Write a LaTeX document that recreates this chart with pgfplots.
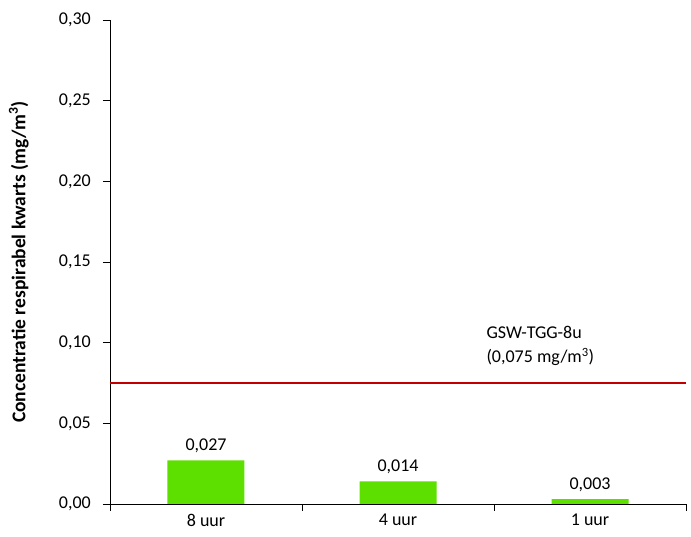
\documentclass[border=0pt]{standalone}
\usepackage{fontspec}
\setmainfont{Carlito}
\usepackage{pgfplots}
\pgfplotsset{compat=1.18}
\definecolor{barg}{HTML}{5DDF00}
\definecolor{limred}{HTML}{C00000}
\begin{document}
\fontsize{18}{21}\selectfont
\begin{tikzpicture}
\begin{axis}[
  scale only axis,
  width=576pt, height=484pt,
  xmin=-0.5, xmax=2.5,
  ymin=0, ymax=0.30,
  axis x line=bottom, axis y line=left,
  axis line style={-, line width=0.8pt},
  tick align=outside,
  tick style={black, line width=0.8pt},
  major tick length=7pt,
  ytick={0,0.05,...,0.301},
  xtick={-0.5,0.5,1.5,2.5},
  xticklabels={},
  extra x ticks={0,1,2},
  extra x tick labels={8 uur,4 uur,1 uur},
  extra x tick style={major tick length=0pt},
  /pgf/number format/.cd, use comma, fixed, fixed zerofill, precision=2, assume math mode=true,
  /pgfplots/.cd,
  ticklabel style={font=\fontsize{18}{21}\selectfont},
  yticklabel style={xshift=-6pt},
  xticklabel style={yshift=-9pt, inner ysep=1pt},
  ylabel={\bfseries Concentratie respirabel kwarts (mg/m\textsuperscript{3})},
  ylabel style={font=\fontsize{19.5}{23}\selectfont, yshift=18pt},
  clip=false,
]
\addplot[ybar, bar width=77pt, fill=barg, draw=none,
  nodes near coords={\pgfmathprintnumber[fixed, fixed zerofill, precision=3, use comma, assume math mode=true]{\pgfplotspointmeta}},
  nodes near coords style={font=\fontsize{18}{21}\selectfont, black, yshift=1pt}]
  coordinates {(0,0.027) (1,0.014) (2,0.003)};
\addplot[limred, line width=2pt] coordinates {(-0.5,0.075) (2.5,0.075)};
\node[anchor=west, align=left, font=\fontsize{18}{24}\selectfont, inner sep=0pt] at (axis cs:1.46,0.098) {GSW-TGG-8u\\(0,075 mg/m\textsuperscript{3})};
\coordinate (o) at (rel axis cs:0,0);
\end{axis}
\pgfresetboundingbox
\path (o) ++(-110pt,-33pt) rectangle ++(691pt,537pt);
\end{tikzpicture}
\end{document}
